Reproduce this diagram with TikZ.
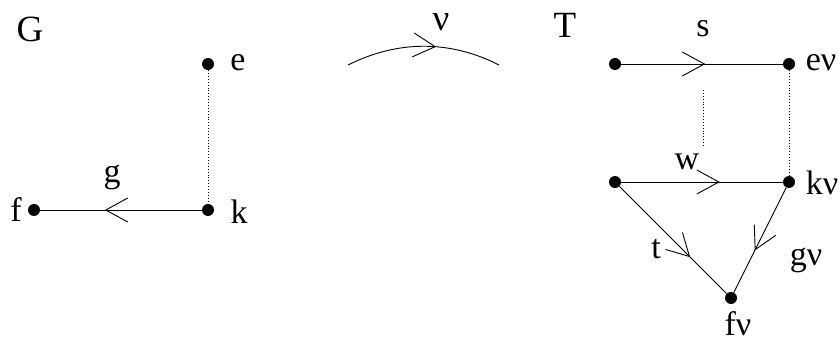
\documentclass[tikz,border=0pt]{standalone}
\usepackage{fontspec}
\setmainfont{Liberation Serif}
\usetikzlibrary{arrows.meta,decorations.markings}
\tikzset{
  dot/.style={circle,fill=black,inner sep=0pt,minimum size=12pt},
  lbl/.style={inner sep=0pt,font=\fontsize{34}{38}\selectfont},
  biglbl/.style={inner sep=0pt,font=\fontsize{37}{40}\selectfont},
  midarrow/.style={postaction={decorate},decoration={markings,
    mark=at position #1 with {\arrow{Straight Barb[length=22pt,width=24pt,line width=0.9pt]}}}},
  edge/.style={line width=0.9pt},
  dots/.style={dotted,line width=0.9pt}
}
\begin{document}
\begin{tikzpicture}[x=1pt,y=-1pt]
\useasboundingbox (0,0) rectangle (839,342);
% G
\node[biglbl] (G) at (30,29) {G};
\node[dot] (e) at (208,64) {};
\node[dot] (k) at (208,210) {};
\node[dot] (f) at (34,210) {};
\node[lbl] (el) at (238,63) {e};
\node[lbl] (kl) at (239,212) {k};
\node[lbl] (fl) at (16,210) {f};
\node[lbl] (gl) at (112,177) {g};
\draw[dots] (e) -- (k);
\draw[edge,midarrow=0.6] (k) -- (f);
% nu arc
\coordinate (a1) at (348,65);
\coordinate (a2) at (499,65);
\node[biglbl] (nu) at (441,22) {ν};
\draw[edge,midarrow=0.58] (a1) .. controls (398,40) and (450,40) .. (a2);
% T
\node[biglbl] (T) at (565,25) {T};
\node[dot] (s1) at (615,64) {};
\node[dot] (s2) at (789,64) {};
\node[dot] (w1) at (615,182) {};
\node[dot] (w2) at (789,182) {};
\node[dot] (fv) at (731,298) {};
\node[lbl] (sl) at (703,29) {s};
\node[lbl] (evl) at (821,63) {eν};
\node[lbl] (wl) at (687,162) {w};
\node[lbl] (kvl) at (822,183) {kν};
\node[lbl] (tl) at (656,249) {t};
\node[lbl] (gvl) at (806,260) {gν};
\node[lbl] (fvl) at (738,324) {fν};
\coordinate (d1) at (703,90);
\coordinate (d2) at (703,146);
\draw[edge,midarrow=0.52] (s1) -- (s2);
\draw[edge,midarrow=0.61] (w1) -- (w2);
\draw[edge,midarrow=0.66] (w1) -- (fv);
\draw[edge,midarrow=0.6] (w2) -- (fv);
\draw[dots] (s2) -- (w2);
\draw[dots] (d1) -- (d2);
\end{tikzpicture}
\end{document}
